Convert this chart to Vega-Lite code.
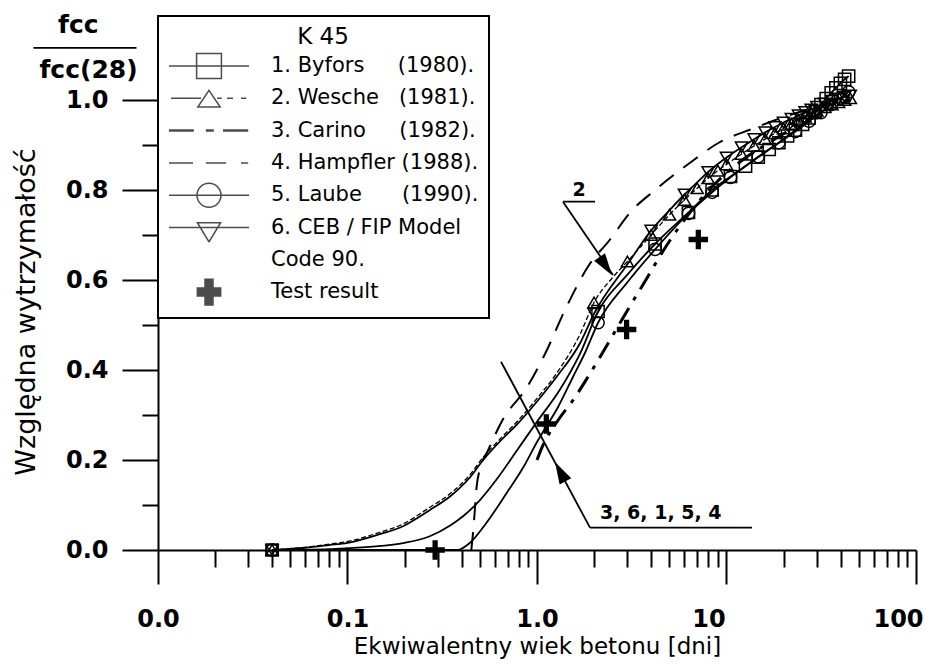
{
  "$schema": "https://vega.github.io/schema/vega-lite/v6.json",
  "width": 758,
  "height": 534,
  "autosize": {"type": "none"},
  "padding": {"left": 158, "top": 16, "right": 15, "bottom": 114},
  "background": "white",
  "config": {
    "view": {"stroke": null},
    "axis": {
      "domainColor": "black", "tickColor": "black", "labelColor": "black", "titleColor": "black",
      "grid": false, "domainWidth": 2, "tickWidth": 2,
      "labelFont": "DejaVu Sans", "labelFontWeight": "bold", "labelFontSize": 24,
      "titleFont": "DejaVu Sans", "titleFontWeight": "normal",
      "labelFlush": false, "labelOverlap": false
    },
    "legend": {"strokeWidth": 2}
  },
  "datasets": {
    "curves": [
      {"series": "Byfors", "x": 0.04, "y": 0, "m": true},
      {"series": "Byfors", "x": 0.08, "y": 0.002},
      {"series": "Byfors", "x": 0.1, "y": 0.004},
      {"series": "Byfors", "x": 0.15, "y": 0.009},
      {"series": "Byfors", "x": 0.2, "y": 0.016},
      {"series": "Byfors", "x": 0.27, "y": 0.03},
      {"series": "Byfors", "x": 0.35, "y": 0.055},
      {"series": "Byfors", "x": 0.41, "y": 0.076},
      {"series": "Byfors", "x": 0.5, "y": 0.111},
      {"series": "Byfors", "x": 0.61, "y": 0.156},
      {"series": "Byfors", "x": 0.78, "y": 0.22},
      {"series": "Byfors", "x": 1.0, "y": 0.285},
      {"series": "Byfors", "x": 1.32, "y": 0.356},
      {"series": "Byfors", "x": 1.69, "y": 0.437},
      {"series": "Byfors", "x": 2.1, "y": 0.53, "m": true},
      {"series": "Byfors", "x": 3.0, "y": 0.612},
      {"series": "Byfors", "x": 4.2, "y": 0.68, "m": true},
      {"series": "Byfors", "x": 6.3, "y": 0.75, "m": true},
      {"series": "Byfors", "x": 8.4, "y": 0.8, "m": true},
      {"series": "Byfors", "x": 10.5, "y": 0.83, "m": true},
      {"series": "Byfors", "x": 12.6, "y": 0.853, "m": true},
      {"series": "Byfors", "x": 14.7, "y": 0.873, "m": true},
      {"series": "Byfors", "x": 16.8, "y": 0.89, "m": true},
      {"series": "Byfors", "x": 18.9, "y": 0.905, "m": true},
      {"series": "Byfors", "x": 21, "y": 0.92, "m": true},
      {"series": "Byfors", "x": 23.1, "y": 0.933, "m": true},
      {"series": "Byfors", "x": 25.2, "y": 0.946, "m": true},
      {"series": "Byfors", "x": 27.3, "y": 0.96, "m": true},
      {"series": "Byfors", "x": 29.4, "y": 0.975, "m": true},
      {"series": "Byfors", "x": 31.5, "y": 0.99, "m": true},
      {"series": "Byfors", "x": 33.6, "y": 1.003, "m": true},
      {"series": "Byfors", "x": 35.7, "y": 1.016, "m": true},
      {"series": "Byfors", "x": 37.8, "y": 1.027, "m": true},
      {"series": "Byfors", "x": 39.9, "y": 1.037, "m": true},
      {"series": "Byfors", "x": 42, "y": 1.046, "m": true},
      {"series": "Byfors", "x": 44.1, "y": 1.053, "m": true},

      {"series": "Wesche", "x": 0.04, "y": 0, "m": true},
      {"series": "Wesche", "x": 0.06, "y": 0.006},
      {"series": "Wesche", "x": 0.08, "y": 0.013},
      {"series": "Wesche", "x": 0.1, "y": 0.019},
      {"series": "Wesche", "x": 0.15, "y": 0.04},
      {"series": "Wesche", "x": 0.19, "y": 0.055},
      {"series": "Wesche", "x": 0.27, "y": 0.094},
      {"series": "Wesche", "x": 0.35, "y": 0.126},
      {"series": "Wesche", "x": 0.44, "y": 0.166},
      {"series": "Wesche", "x": 0.52, "y": 0.206},
      {"series": "Wesche", "x": 0.65, "y": 0.25},
      {"series": "Wesche", "x": 0.78, "y": 0.284},
      {"series": "Wesche", "x": 1.0, "y": 0.337},
      {"series": "Wesche", "x": 1.27, "y": 0.393},
      {"series": "Wesche", "x": 1.69, "y": 0.48},
      {"series": "Wesche", "x": 2, "y": 0.55, "m": true},
      {"series": "Wesche", "x": 2.5, "y": 0.605},
      {"series": "Wesche", "x": 3, "y": 0.641, "m": true},
      {"series": "Wesche", "x": 4, "y": 0.7, "m": true},
      {"series": "Wesche", "x": 5, "y": 0.745, "m": true},
      {"series": "Wesche", "x": 6, "y": 0.778, "m": true},
      {"series": "Wesche", "x": 7, "y": 0.804, "m": true},
      {"series": "Wesche", "x": 8, "y": 0.826, "m": true},
      {"series": "Wesche", "x": 9, "y": 0.843, "m": true},
      {"series": "Wesche", "x": 10, "y": 0.857, "m": true},
      {"series": "Wesche", "x": 12, "y": 0.88, "m": true},
      {"series": "Wesche", "x": 14, "y": 0.898, "m": true},
      {"series": "Wesche", "x": 16, "y": 0.913, "m": true},
      {"series": "Wesche", "x": 18, "y": 0.926, "m": true},
      {"series": "Wesche", "x": 20, "y": 0.937, "m": true},
      {"series": "Wesche", "x": 22, "y": 0.947, "m": true},
      {"series": "Wesche", "x": 24, "y": 0.955, "m": true},
      {"series": "Wesche", "x": 26, "y": 0.963, "m": true},
      {"series": "Wesche", "x": 28, "y": 0.97, "m": true},
      {"series": "Wesche", "x": 30, "y": 0.976, "m": true},
      {"series": "Wesche", "x": 33, "y": 0.984, "m": true},
      {"series": "Wesche", "x": 36, "y": 0.99, "m": true},
      {"series": "Wesche", "x": 39, "y": 0.995, "m": true},
      {"series": "Wesche", "x": 42, "y": 1.0, "m": true},
      {"series": "Wesche", "x": 45, "y": 1.004, "m": true},

      {"series": "CEB", "x": 0.04, "y": 0, "m": true},
      {"series": "CEB", "x": 0.06, "y": 0.005},
      {"series": "CEB", "x": 0.08, "y": 0.011},
      {"series": "CEB", "x": 0.1, "y": 0.016},
      {"series": "CEB", "x": 0.15, "y": 0.036},
      {"series": "CEB", "x": 0.19, "y": 0.05},
      {"series": "CEB", "x": 0.27, "y": 0.088},
      {"series": "CEB", "x": 0.35, "y": 0.12},
      {"series": "CEB", "x": 0.44, "y": 0.16},
      {"series": "CEB", "x": 0.52, "y": 0.2},
      {"series": "CEB", "x": 0.65, "y": 0.245},
      {"series": "CEB", "x": 0.78, "y": 0.278},
      {"series": "CEB", "x": 1.0, "y": 0.33},
      {"series": "CEB", "x": 1.27, "y": 0.385},
      {"series": "CEB", "x": 1.69, "y": 0.46},
      {"series": "CEB", "x": 2, "y": 0.525, "m": true},
      {"series": "CEB", "x": 3, "y": 0.635},
      {"series": "CEB", "x": 4, "y": 0.71, "m": true},
      {"series": "CEB", "x": 5, "y": 0.755},
      {"series": "CEB", "x": 6, "y": 0.79, "m": true},
      {"series": "CEB", "x": 7, "y": 0.817},
      {"series": "CEB", "x": 8, "y": 0.84, "m": true},
      {"series": "CEB", "x": 10, "y": 0.872, "m": true},
      {"series": "CEB", "x": 12, "y": 0.895, "m": true},
      {"series": "CEB", "x": 14, "y": 0.913, "m": true},
      {"series": "CEB", "x": 16, "y": 0.928, "m": true},
      {"series": "CEB", "x": 18, "y": 0.94, "m": true},
      {"series": "CEB", "x": 20, "y": 0.95, "m": true},
      {"series": "CEB", "x": 22, "y": 0.958, "m": true},
      {"series": "CEB", "x": 24, "y": 0.966, "m": true},
      {"series": "CEB", "x": 26, "y": 0.973, "m": true},
      {"series": "CEB", "x": 28, "y": 0.979, "m": true},
      {"series": "CEB", "x": 30, "y": 0.985, "m": true},
      {"series": "CEB", "x": 33, "y": 0.992, "m": true},
      {"series": "CEB", "x": 36, "y": 0.998, "m": true},
      {"series": "CEB", "x": 39, "y": 1.003, "m": true},
      {"series": "CEB", "x": 42, "y": 1.007, "m": true},
      {"series": "CEB", "x": 45, "y": 1.01, "m": true},

      {"series": "Laube", "x": 0.04, "y": 0, "m": true},
      {"series": "Laube", "x": 0.1, "y": 0},
      {"series": "Laube", "x": 0.2, "y": 0},
      {"series": "Laube", "x": 0.3, "y": 0},
      {"series": "Laube", "x": 0.38, "y": 0},
      {"series": "Laube", "x": 0.44, "y": 0.015},
      {"series": "Laube", "x": 0.54, "y": 0.06},
      {"series": "Laube", "x": 0.7, "y": 0.13},
      {"series": "Laube", "x": 0.85, "y": 0.185},
      {"series": "Laube", "x": 1.0, "y": 0.24},
      {"series": "Laube", "x": 1.3, "y": 0.32},
      {"series": "Laube", "x": 1.55, "y": 0.385},
      {"series": "Laube", "x": 1.8, "y": 0.44},
      {"series": "Laube", "x": 2.1, "y": 0.505, "m": true},
      {"series": "Laube", "x": 3.0, "y": 0.595},
      {"series": "Laube", "x": 4.2, "y": 0.668, "m": true},
      {"series": "Laube", "x": 6.3, "y": 0.748, "m": true},
      {"series": "Laube", "x": 8.4, "y": 0.795, "m": true},
      {"series": "Laube", "x": 10.5, "y": 0.828, "m": true},
      {"series": "Laube", "x": 14.7, "y": 0.874, "m": true},
      {"series": "Laube", "x": 18.9, "y": 0.905, "m": true},
      {"series": "Laube", "x": 23.1, "y": 0.93, "m": true},
      {"series": "Laube", "x": 27.3, "y": 0.953, "m": true},
      {"series": "Laube", "x": 31.5, "y": 0.972, "m": true},
      {"series": "Laube", "x": 35.7, "y": 0.99, "m": true},
      {"series": "Laube", "x": 39.9, "y": 1.004, "m": true},
      {"series": "Laube", "x": 44.1, "y": 1.018, "m": true},

      {"series": "Carino", "x": 1.0, "y": 0.2},
      {"series": "Carino", "x": 1.06, "y": 0.227},
      {"series": "Carino", "x": 1.3, "y": 0.29},
      {"series": "Carino", "x": 1.55, "y": 0.333},
      {"series": "Carino", "x": 1.86, "y": 0.385},
      {"series": "Carino", "x": 2.23, "y": 0.44},
      {"series": "Carino", "x": 2.7, "y": 0.5},
      {"series": "Carino", "x": 3.21, "y": 0.553},
      {"series": "Carino", "x": 3.8, "y": 0.604},
      {"series": "Carino", "x": 4.62, "y": 0.664},
      {"series": "Carino", "x": 5.46, "y": 0.71},
      {"series": "Carino", "x": 7, "y": 0.77},
      {"series": "Carino", "x": 9, "y": 0.82},
      {"series": "Carino", "x": 12, "y": 0.865},
      {"series": "Carino", "x": 16, "y": 0.9},
      {"series": "Carino", "x": 20, "y": 0.925},
      {"series": "Carino", "x": 28, "y": 0.96},
      {"series": "Carino", "x": 35, "y": 0.98},
      {"series": "Carino", "x": 45, "y": 1.0},

      {"series": "Hampfler", "x": 0.45, "y": 0},
      {"series": "Hampfler", "x": 0.46, "y": 0.04},
      {"series": "Hampfler", "x": 0.47, "y": 0.09},
      {"series": "Hampfler", "x": 0.48, "y": 0.14},
      {"series": "Hampfler", "x": 0.5, "y": 0.18},
      {"series": "Hampfler", "x": 0.55, "y": 0.22},
      {"series": "Hampfler", "x": 0.66, "y": 0.29},
      {"series": "Hampfler", "x": 0.88, "y": 0.36},
      {"series": "Hampfler", "x": 1.1, "y": 0.435},
      {"series": "Hampfler", "x": 1.43, "y": 0.54},
      {"series": "Hampfler", "x": 1.86, "y": 0.63},
      {"series": "Hampfler", "x": 2.43, "y": 0.69},
      {"series": "Hampfler", "x": 3.1, "y": 0.75},
      {"series": "Hampfler", "x": 4.2, "y": 0.8},
      {"series": "Hampfler", "x": 6.4, "y": 0.86},
      {"series": "Hampfler", "x": 9.1, "y": 0.905},
      {"series": "Hampfler", "x": 13.5, "y": 0.935},
      {"series": "Hampfler", "x": 18, "y": 0.955},
      {"series": "Hampfler", "x": 25, "y": 0.975},
      {"series": "Hampfler", "x": 35, "y": 0.99},
      {"series": "Hampfler", "x": 45, "y": 1.0}
    ],
    "tests": [
      {"x": 0.29, "y": 0.0},
      {"x": 1.12, "y": 0.28},
      {"x": 2.97, "y": 0.49},
      {"x": 7.1, "y": 0.69}
    ],
    "fraction": [
      {"text": "fcc", "x": 0.0038, "y": 1.148},
      {"text": "fcc(28)", "x": 0.0043, "y": 1.049}
    ],
    "notes": [
      {"text": "2", "x": 1.666, "y": 0.801},
      {"text": "3, 6, 1, 5, 4", "x": 4.5, "y": 0.0816}
    ],
    "segments": [
      {"x": 0.0022, "x2": 0.0077, "y": 1.116, "y2": 1.116},
      {"x": 1.371, "x2": 2.024, "y": 0.774, "y2": 0.774},
      {"x": 1.371, "x2": 2.518, "y": 0.774, "y2": 0.611},
      {"x": 1.904, "x2": 13.63, "y": 0.0496, "y2": 0.0496},
      {"x": 1.904, "x2": 0.6457, "y": 0.0496, "y2": 0.4184}
    ],
    "arrow1": [{"x": 2.307, "y": 0.631}],
    "arrow2": [{"x": 1.326, "y": 0.174}]
  },
  "layer": [
    {
      "data": {"name": "curves"},
      "transform": [{"filter": "datum.series === 'Byfors' || datum.series === 'Laube' || datum.series === 'CEB'"}],
      "mark": {"type": "line", "color": "black", "strokeWidth": 1.8, "interpolate": "monotone"},
      "encoding": {
        "x": {
          "field": "x", "type": "quantitative",
          "scale": {"type": "log", "domain": [0.01, 100], "nice": false},
          "axis": {
            "orient": "bottom",
            "values": [0.01, 0.1, 1, 10, 100],
            "labelExpr": "datum.value < 0.05 ? '0.0' : datum.value < 0.5 ? '0.1' : datum.value < 5 ? '1.0' : datum.value < 50 ? '10' : '100'",
            "labelOffset": {"condition": {"test": "datum.value > 5", "value": -18}, "value": 0},
            "tickSize": 34, "labelPadding": 23,
            "title": "Ekwiwalentny wiek betonu [dni]",
            "titleFontSize": 23, "titleBaseline": "top", "titleY": 85
          }
        },
        "y": {
          "field": "y", "type": "quantitative",
          "scale": {"domain": [0, 1.18667], "nice": false, "zero": false},
          "axis": {
            "orient": "left",
            "values": [0, 0.2, 0.4, 0.6, 0.8, 1.0],
            "format": ".1f",
            "tickSize": 36, "labelPadding": 14,
            "title": "Względna wytrzymałość",
            "titleFontSize": 27, "titleAngle": 270, "titleBaseline": "alphabetic",
            "titleX": -124, "titleY": 295.5
          }
        },
        "detail": {"field": "series"}
      }
    },
    {
      "data": {"name": "curves"},
      "transform": [{"filter": "datum.series === 'Wesche'"}],
      "mark": {"type": "line", "color": "black", "strokeWidth": 1.3, "strokeDash": [5, 2.5], "interpolate": "monotone"},
      "encoding": {
        "x": {"field": "x", "type": "quantitative", "axis": null},
        "y": {"field": "y", "type": "quantitative", "axis": null}
      }
    },
    {
      "data": {"name": "curves"},
      "transform": [{"filter": "datum.series === 'Carino'"}],
      "mark": {"type": "line", "color": "black", "strokeWidth": 3, "strokeDash": [18, 9, 4, 9], "interpolate": "monotone"},
      "encoding": {
        "x": {"field": "x", "type": "quantitative", "axis": null},
        "y": {"field": "y", "type": "quantitative", "axis": null}
      }
    },
    {
      "data": {"name": "curves"},
      "transform": [{"filter": "datum.series === 'Hampfler'"}],
      "mark": {"type": "line", "color": "black", "strokeWidth": 2, "strokeDash": [18, 12], "interpolate": "monotone"},
      "encoding": {
        "x": {"field": "x", "type": "quantitative", "axis": null},
        "y": {"field": "y", "type": "quantitative", "axis": null}
      }
    },
    {
      "data": {"name": "curves"},
      "transform": [{"filter": "datum.m === true"}],
      "mark": {"type": "point", "filled": false, "color": "black", "strokeWidth": 1.5, "size": 150, "opacity": 1},
      "encoding": {
        "x": {
          "field": "x", "type": "quantitative",
          "axis": {
            "orient": "bottom",
            "values": [0.02, 0.03, 0.04, 0.05, 0.06, 0.07, 0.08, 0.09, 0.2, 0.3, 0.4, 0.5, 0.6, 0.7, 0.8, 0.9, 2, 3, 4, 5, 6, 7, 8, 9, 20, 30, 40, 50, 60, 70, 80, 90],
            "tickSize": 17, "labels": false, "domain": false, "title": null
          }
        },
        "y": {
          "field": "y", "type": "quantitative",
          "axis": {
            "orient": "left",
            "values": [0.1, 0.3, 0.5, 0.7, 0.9],
            "tickSize": 16, "labels": false, "domain": false, "title": null
          }
        },
        "shape": {
          "field": "series", "type": "nominal",
          "scale": {"domain": ["Byfors", "Wesche", "Laube", "CEB"], "range": ["square", "triangle-up", "circle", "triangle-down"]},
          "legend": null
        }
      }
    },
    {
      "data": {"name": "tests"},
      "mark": {"type": "point", "shape": "M-1,-0.27H-0.27V-1H0.27V-0.27H1V0.27H0.27V1H-0.27V0.27H-1Z", "filled": true, "color": "black", "size": 380, "opacity": 1},
      "encoding": {
        "x": {"field": "x", "type": "quantitative", "axis": null},
        "y": {"field": "y", "type": "quantitative", "axis": null}
      }
    },
    {
      "data": {"name": "segments"},
      "mark": {"type": "rule", "color": "black", "strokeWidth": 1.8},
      "encoding": {
        "x": {"field": "x", "type": "quantitative", "axis": null},
        "x2": {"field": "x2"},
        "y": {"field": "y", "type": "quantitative", "axis": null},
        "y2": {"field": "y2"}
      }
    },
    {
      "data": {"name": "arrow1"},
      "mark": {"type": "point", "shape": "M0,-1L0.6,1L-0.6,1Z", "filled": true, "color": "black", "size": 484, "angle": 145.6, "opacity": 1},
      "encoding": {
        "x": {"field": "x", "type": "quantitative", "axis": null},
        "y": {"field": "y", "type": "quantitative", "axis": null}
      }
    },
    {
      "data": {"name": "arrow2"},
      "mark": {"type": "point", "shape": "M0,-1L0.6,1L-0.6,1Z", "filled": true, "color": "black", "size": 484, "angle": 331.8, "opacity": 1},
      "encoding": {
        "x": {"field": "x", "type": "quantitative", "axis": null},
        "y": {"field": "y", "type": "quantitative", "axis": null}
      }
    },
    {
      "data": {"name": "fraction"},
      "mark": {"type": "text", "font": "DejaVu Sans", "fontWeight": "bold", "fontSize": 25, "align": "center", "baseline": "alphabetic", "color": "black"},
      "encoding": {
        "x": {"field": "x", "type": "quantitative", "axis": null},
        "y": {"field": "y", "type": "quantitative", "axis": null},
        "text": {"field": "text"}
      }
    },
    {
      "data": {"name": "notes"},
      "mark": {"type": "text", "font": "DejaVu Sans", "fontWeight": "bold", "fontSize": 19, "align": "center", "baseline": "middle", "color": "black"},
      "encoding": {
        "x": {"field": "x", "type": "quantitative", "axis": null},
        "y": {"field": "y", "type": "quantitative", "axis": null},
        "text": {"field": "text"}
      }
    },
    {
      "data": {"name": "curves"},
      "transform": [{"filter": "false"}],
      "mark": {"type": "point", "filled": false, "color": "black", "strokeWidth": 1.5, "size": 6400},
      "encoding": {
        "shape": {
          "field": "series", "type": "nominal",
          "scale": {
            "domain": ["Byfors", "Wesche", "Carino", "Hampfler", "Laube", "CEB", "Code", "Test"],
            "range": [
              "M-1,0H1M-0.31,-0.31H0.31V0.31H-0.31ZM0,-0.34L0,-0.34M0,0.34L0,0.34",
              "M-0.95,0H-0.2M0.2,0H0.32M0.45,0H0.6M0.8,0H0.93M0,-0.2L0.28,0.22L-0.28,0.22ZM0,-0.34L0,-0.34M0,0.34L0,0.34",
              "M-1,-0.0125H-0.38M-1,0.0125H-0.38M-0.08,-0.0125H0.12M-0.08,0.0125H0.12M0.35,-0.0125H0.98M0.35,0.0125H0.98M0,-0.34L0,-0.34M0,0.34L0,0.34",
              "M-1,0H-0.4M-0.08,0H0.43M0.8,0H0.98M0,-0.34L0,-0.34M0,0.34L0,0.34",
              "M-1,0H1M-0.3,0A0.3,0.3,0,1,1,0.3,0A0.3,0.3,0,1,1,-0.3,0ZM0,-0.34L0,-0.34M0,0.34L0,0.34",
              "M-1,0H1M-0.29,-0.12H0.29L0,0.36ZM0,-0.34L0,-0.34M0,0.34L0,0.34",
              "M0,-0.34L0,-0.34M0,0.34L0,0.34",
              "M-0.31,-0.1H0.31M-0.31,-0.067H0.31M-0.31,-0.033H0.31M-0.31,0H0.31M-0.31,0.033H0.31M-0.31,0.067H0.31M-0.31,0.1H0.31M-0.1,-0.34V0.34M-0.067,-0.34V0.34M-0.033,-0.34V0.34M0,-0.34V0.34M0.033,-0.34V0.34M0.067,-0.34V0.34M0.1,-0.34V0.34"
            ]
          },
          "legend": {
            "title": "K 45",
            "orient": "none", "legendX": 0, "legendY": 0, "direction": "vertical",
            "padding": 10, "strokeColor": "black", "fillColor": "white",
            "titleFont": "DejaVu Sans", "titleFontSize": 23, "titleFontWeight": "normal", "titleColor": "black",
            "titleAnchor": "middle", "titleAlign": "center", "titlePadding": 2,
            "labelFont": "DejaVu Sans", "labelFontSize": 21, "labelColor": "black",
            "labelOffset": 21, "labelLimit": 400,
            "symbolSize": 6400, "symbolStrokeWidth": 1.5, "symbolStrokeColor": "black", "symbolFillColor": "transparent",
            "clipHeight": 30, "rowPadding": 2.3,
            "labelExpr": "datum.value === 'Byfors' ? '1. Byfors\u00a0\u00a0\u00a0\u00a0\u00a0(1980).' : datum.value === 'Wesche' ? '2. Wesche\u00a0\u00a0\u00a0(1981).' : datum.value === 'Carino' ? '3. Carino\u00a0\u00a0\u00a0\u00a0\u00a0(1982).' : datum.value === 'Hampfler' ? '4. Hampfler\u00a0(1988).' : datum.value === 'Laube' ? '5. Laube\u00a0\u00a0\u00a0\u00a0\u00a0\u00a0(1990).' : datum.value === 'CEB' ? '6. CEB / FIP Model' : datum.value === 'Code' ? '\u00a0\u00a0\u00a0\u00a0Code 90.' : 'Test result'"
          }
        }
      }
    }
  ],
  "resolve": {
    "axis": {"x": "independent", "y": "independent"},
    "scale": {"shape": "independent"}
  }
}
